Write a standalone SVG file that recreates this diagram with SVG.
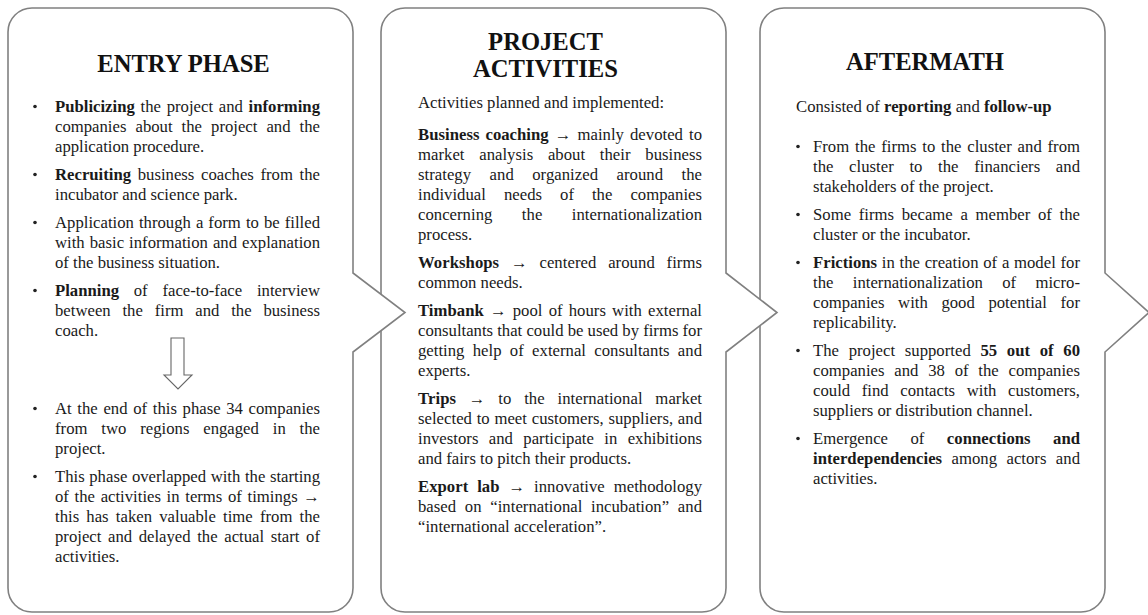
<svg xmlns="http://www.w3.org/2000/svg" width="1148" height="615" viewBox="0 0 1148 615">
<style>
.panel{fill:#fff;stroke:#808080;stroke-width:1.6}
.t{font-family:"Liberation Serif","Times New Roman",serif;font-size:16.7px;fill:#1a1a1a}
.h{font-family:"Liberation Serif","Times New Roman",serif;font-size:24.6px;font-weight:bold;text-anchor:middle;fill:#111}
.b{font-weight:bold}
.dot{fill:#222}
.hollow{fill:#fff;stroke:#666;stroke-width:1.1}
</style>
<rect width="1148" height="615" fill="#fff"/>

<g id="aftermath">
<path class="panel" d="M784 8 H1081 A24 24 0 0 1 1105 32 V273 L1149 312.5 L1105 352 V588 A24 24 0 0 1 1081 612 H784 A24 24 0 0 1 760 588 V32 A24 24 0 0 1 784 8 Z"/>
<text class="h" x="925" y="70">AFTERMATH</text>
<text class="t" x="796" y="112">Consisted of <tspan class="b">reporting</tspan> and <tspan class="b">follow-up</tspan></text>
<circle class="dot" cx="798" cy="146.5" r="1.8"/>
<circle class="dot" cx="798" cy="214.5" r="1.8"/>
<circle class="dot" cx="798" cy="262.5" r="1.8"/>
<circle class="dot" cx="798" cy="350.5" r="1.8"/>
<circle class="dot" cx="798" cy="438.5" r="1.8"/>
<text class="t" x="813" y="152" style="word-spacing:1.59px" textLength="267" lengthAdjust="spacing">From the firms to the cluster and from</text>
<text class="t" x="813" y="172" style="word-spacing:11.5px" textLength="267" lengthAdjust="spacing">the cluster to the financiers and</text>
<text class="t" x="813" y="192">stakeholders of the project.</text>
<text class="t" x="813" y="220" style="word-spacing:3.48px" textLength="267" lengthAdjust="spacing">Some firms became a member of the</text>
<text class="t" x="813" y="240">cluster or the incubator.</text>
<text class="t" x="813" y="268" style="word-spacing:0.53px" textLength="267" lengthAdjust="spacing"><tspan class="b">Frictions</tspan> in the creation of a model for</text>
<text class="t" x="813" y="288" style="word-spacing:15.15px" textLength="267" lengthAdjust="spacing">the internationalization of micro-</text>
<text class="t" x="813" y="308" style="word-spacing:9.39px" textLength="267" lengthAdjust="spacing">companies with good potential for</text>
<text class="t" x="813" y="328">replicability.</text>
<text class="t" x="813" y="356" style="word-spacing:5.49px" textLength="267" lengthAdjust="spacing">The project supported <tspan class="b">55 out of 60</tspan></text>
<text class="t" x="813" y="376" style="word-spacing:5.57px" textLength="267" lengthAdjust="spacing">companies and 38 of the companies</text>
<text class="t" x="813" y="396" style="word-spacing:7.42px" textLength="267" lengthAdjust="spacing">could find contacts with customers,</text>
<text class="t" x="813" y="416">suppliers or distribution channel.</text>
<text class="t" x="813" y="444" style="word-spacing:18.24px" textLength="267" lengthAdjust="spacing">Emergence of <tspan class="b">connections and</tspan></text>
<text class="t" x="813" y="464" style="word-spacing:5.26px" textLength="267" lengthAdjust="spacing"><tspan class="b">interdependencies</tspan> among actors and</text>
<text class="t" x="813" y="484">activities.</text>
</g>

<g id="project-activities">
<path class="panel" d="M405 8 H702 A24 24 0 0 1 726 32 V273 L777 312.5 L726 352 V588 A24 24 0 0 1 702 612 H405 A24 24 0 0 1 381 588 V32 A24 24 0 0 1 405 8 Z"/>
<text class="h" x="545.5" y="50">PROJECT</text>
<text class="h" x="545.5" y="77">ACTIVITIES</text>
<text class="t" x="418" y="108">Activities planned and implemented:</text>
<text class="t" x="418" y="140" style="word-spacing:1.84px" textLength="284" lengthAdjust="spacing"><tspan class="b">Business coaching</tspan> → mainly devoted to</text>
<text class="t" x="418" y="160" style="word-spacing:10.55px" textLength="284" lengthAdjust="spacing">market analysis about their business</text>
<text class="t" x="418" y="180" style="word-spacing:14.27px" textLength="284" lengthAdjust="spacing">strategy and organized around the</text>
<text class="t" x="418" y="200" style="word-spacing:13.8px" textLength="284" lengthAdjust="spacing">individual needs of the companies</text>
<text class="t" x="418" y="220" style="word-spacing:25.3px" textLength="284" lengthAdjust="spacing">concerning the internationalization</text>
<text class="t" x="418" y="240">process.</text>
<text class="t" x="418" y="268" style="word-spacing:7.54px" textLength="284" lengthAdjust="spacing"><tspan class="b">Workshops</tspan> → centered around firms</text>
<text class="t" x="418" y="288">common needs.</text>
<text class="t" x="418" y="316" style="word-spacing:1.93px" textLength="284" lengthAdjust="spacing"><tspan class="b">Timbank</tspan> → pool of hours with external</text>
<text class="t" x="418" y="336" textLength="284" lengthAdjust="spacing">consultants that could be used by firms for</text>
<text class="t" x="418" y="356" style="word-spacing:4.11px" textLength="284" lengthAdjust="spacing">getting help of external consultants and</text>
<text class="t" x="418" y="376">experts.</text>
<text class="t" x="418" y="404" style="word-spacing:8.53px" textLength="284" lengthAdjust="spacing"><tspan class="b">Trips</tspan> → to the international market</text>
<text class="t" x="418" y="424" style="word-spacing:0.56px" textLength="284" lengthAdjust="spacing">selected to meet customers, suppliers, and</text>
<text class="t" x="418" y="444" style="word-spacing:6.15px" textLength="284" lengthAdjust="spacing">investors and participate in exhibitions</text>
<text class="t" x="418" y="464">and fairs to pitch their products.</text>
<text class="t" x="418" y="492" style="word-spacing:4.74px" textLength="284" lengthAdjust="spacing"><tspan class="b">Export lab</tspan> → innovative methodology</text>
<text class="t" x="418" y="512" style="word-spacing:4.53px" textLength="284" lengthAdjust="spacing">based on “international incubation” and</text>
<text class="t" x="418" y="532">“international acceleration”.</text>
</g>

<g id="entry-phase">
<path class="panel" d="M32 8 H329 A24 24 0 0 1 353 32 V273 L405 312.5 L353 352 V588 A24 24 0 0 1 329 612 H32 A24 24 0 0 1 8 588 V32 A24 24 0 0 1 32 8 Z"/>
<text class="h" x="183.5" y="72">ENTRY PHASE</text>
<circle class="dot" cx="35" cy="106.5" r="1.8"/>
<circle class="dot" cx="35" cy="174.5" r="1.8"/>
<circle class="dot" cx="35" cy="222.5" r="1.8"/>
<circle class="dot" cx="35" cy="290.5" r="1.8"/>
<circle class="dot" cx="35" cy="408.5" r="1.8"/>
<circle class="dot" cx="35" cy="476.5" r="1.8"/>
<text class="t" x="55" y="112" style="word-spacing:1.54px" textLength="265" lengthAdjust="spacing"><tspan class="b">Publicizing</tspan> the project and <tspan class="b">informing</tspan></text>
<text class="t" x="55" y="132" style="word-spacing:4.86px" textLength="265" lengthAdjust="spacing">companies about the project and the</text>
<text class="t" x="55" y="152">application procedure.</text>
<text class="t" x="55" y="180" style="word-spacing:2.48px" textLength="265" lengthAdjust="spacing"><tspan class="b">Recruiting</tspan> business coaches from the</text>
<text class="t" x="55" y="200">incubator and science park.</text>
<text class="t" x="55" y="228" style="word-spacing:0.87px" textLength="265" lengthAdjust="spacing">Application through a form to be filled</text>
<text class="t" x="55" y="248" style="word-spacing:0.85px" textLength="265" lengthAdjust="spacing">with basic information and explanation</text>
<text class="t" x="55" y="268">of the business situation.</text>
<text class="t" x="55" y="296" style="word-spacing:10.57px" textLength="265" lengthAdjust="spacing"><tspan class="b">Planning</tspan> of face-to-face interview</text>
<text class="t" x="55" y="316" style="word-spacing:7.64px" textLength="265" lengthAdjust="spacing">between the firm and the business</text>
<text class="t" x="55" y="336">coach.</text>
<text class="t" x="55" y="414" style="word-spacing:1.48px" textLength="265" lengthAdjust="spacing">At the end of this phase 34 companies</text>
<text class="t" x="55" y="434" style="word-spacing:9.68px" textLength="265" lengthAdjust="spacing">from two regions engaged in the</text>
<text class="t" x="55" y="454">project.</text>
<text class="t" x="55" y="482" style="word-spacing:0.4px" textLength="265" lengthAdjust="spacing">This phase overlapped with the starting</text>
<text class="t" x="55" y="502" style="word-spacing:1.48px" textLength="265" lengthAdjust="spacing">of the activities in terms of timings →</text>
<text class="t" x="55" y="522" style="word-spacing:3.04px" textLength="265" lengthAdjust="spacing">this has taken valuable time from the</text>
<text class="t" x="55" y="542" style="word-spacing:2.43px" textLength="265" lengthAdjust="spacing">project and delayed the actual start of</text>
<text class="t" x="55" y="562">activities.</text>
</g>

<g id="connectors">
<path class="hollow" d="M171 338 H184 V375 H192 L178 389 L164 375 H171 Z"/>
</g>
</svg>
